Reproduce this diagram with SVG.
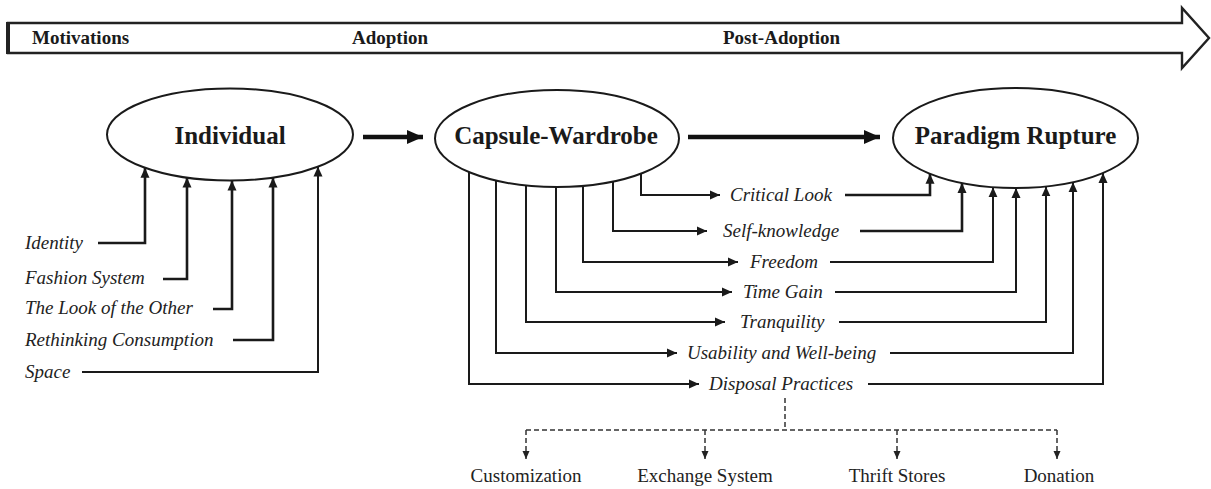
<svg xmlns="http://www.w3.org/2000/svg" width="1211" height="489" viewBox="0 0 1211 489">
<style>
.conn{fill:none;stroke:#1a1a1a;stroke-width:2}
.bold{stroke-width:2.6}
.thick{fill:none;stroke:#111;stroke-width:4.5}
.dash{fill:none;stroke:#333;stroke-width:1.5;stroke-dasharray:5 3}
.node{fill:#fff;stroke:#1a1a1a;stroke-width:2}
.ntext{font-family:"Liberation Serif",serif;font-weight:bold;font-size:25px;fill:#1a1a1a;text-anchor:middle}
.phase{font-family:"Liberation Serif",serif;font-weight:bold;font-size:19px;fill:#1a1a1a}
.lab{font-family:"Liberation Serif",serif;font-style:italic;font-size:19px;fill:#222}
.out{font-family:"Liberation Serif",serif;font-size:19px;fill:#222;text-anchor:middle}
</style>
<defs>
<marker id="ah" markerUnits="userSpaceOnUse" markerWidth="10" markerHeight="10" refX="10" refY="5" orient="auto"><path d="M0,0.5 L10,5 L0,9.5 z" fill="#1a1a1a"/></marker>
<marker id="ahb" markerUnits="userSpaceOnUse" markerWidth="16" markerHeight="16" refX="16" refY="8" orient="auto"><path d="M0,1 L16,8 L0,15 z" fill="#111"/></marker>
<marker id="ahd" markerUnits="userSpaceOnUse" markerWidth="8" markerHeight="8" refX="8" refY="4" orient="auto"><path d="M0,0.5 L8,4 L0,7.5 z" fill="#222"/></marker>
</defs>
<rect width="1211" height="489" fill="#fff"/>

<g id="timeline">
<polygon points="8,23 1182,23 1182,8 1209,38 1182,68 1182,53 8,53" fill="#fff" stroke="#222" stroke-width="2.4" stroke-linejoin="miter"/>
<line x1="8" y1="22" x2="8" y2="54" stroke="#222" stroke-width="4"/>
<text class="phase" x="32" y="44">Motivations</text>
<text class="phase" x="352" y="44">Adoption</text>
<text class="phase" x="723" y="44">Post-Adoption</text>
</g>

<g id="connectors">
<path class="thick" d="M363,137 H423" marker-end="url(#ahb)"/>
<path class="thick" d="M688,137 H880" marker-end="url(#ahb)"/>
<path class="conn bold" d="M98,243 H145 V167.7" marker-end="url(#ah)"/>
<path class="conn bold" d="M163,279 H187 V177.6" marker-end="url(#ah)"/>
<path class="conn bold" d="M213,309 H232 V180.5" marker-end="url(#ah)"/>
<path class="conn bold" d="M233,340 H273 V177.6" marker-end="url(#ah)"/>
<path class="conn" d="M82,372 H318 V166.6" marker-end="url(#ah)"/>
<path class="conn" d="M641,160 V195 H720" marker-end="url(#ah)"/>
<path class="conn" d="M613,160 V231 H707" marker-end="url(#ah)"/>
<path class="conn" d="M583,160 V262 H738" marker-end="url(#ah)"/>
<path class="conn" d="M556,160 V292 H732" marker-end="url(#ah)"/>
<path class="conn" d="M526,160 V322 H725" marker-end="url(#ah)"/>
<path class="conn" d="M496,160 V353 H677" marker-end="url(#ah)"/>
<path class="conn" d="M469,160 V384 H699" marker-end="url(#ah)"/>
<path class="conn bold" d="M845,195 H930 V173.8" marker-end="url(#ah)"/>
<path class="conn bold" d="M860,231 H962 V183" marker-end="url(#ah)"/>
<path class="conn" d="M830,262 H993 V187.2" marker-end="url(#ah)"/>
<path class="conn" d="M835,292 H1016 V188" marker-end="url(#ah)"/>
<path class="conn" d="M839,322 H1046 V186.4" marker-end="url(#ah)"/>
<path class="conn" d="M890,353 H1073 V182.2" marker-end="url(#ah)"/>
<path class="conn" d="M868,384 H1103 V173" marker-end="url(#ah)"/>
<path class="dash" d="M785,398 V430"/>
<path class="dash" d="M526,430 H1057"/>
<path class="dash" d="M526,430 V459" marker-end="url(#ahd)"/>
<path class="dash" d="M705,430 V459" marker-end="url(#ahd)"/>
<path class="dash" d="M897,430 V459" marker-end="url(#ahd)"/>
<path class="dash" d="M1057,430 V459" marker-end="url(#ahd)"/>
</g>

<g id="individual">
<ellipse class="node" cx="230" cy="134.5" rx="123" ry="46"/>
<text class="ntext" x="230" y="144">Individual</text>
</g>
<g id="capsule-wardrobe">
<ellipse class="node" cx="557" cy="138.5" rx="122" ry="48.5"/>
<text class="ntext" x="556" y="144">Capsule-Wardrobe</text>
</g>
<g id="paradigm-rupture">
<ellipse class="node" cx="1015.5" cy="138" rx="122.5" ry="50"/>
<text class="ntext" x="1015.5" y="144">Paradigm Rupture</text>
</g>

<g id="motivation-labels">
<text class="lab" x="25" y="249">Identity</text>
<text class="lab" x="25" y="284">Fashion System</text>
<text class="lab" x="25" y="314">The Look of the Other</text>
<text class="lab" x="25" y="346">Rethinking Consumption</text>
<text class="lab" x="25" y="378">Space</text>
</g>
<g id="post-adoption-labels">
<text class="lab" x="730" y="201">Critical Look</text>
<text class="lab" x="723" y="237">Self-knowledge</text>
<text class="lab" x="750" y="268">Freedom</text>
<text class="lab" x="743" y="298">Time Gain</text>
<text class="lab" x="740" y="328">Tranquility</text>
<text class="lab" x="687" y="359">Usability and Well-being</text>
<text class="lab" x="709" y="390">Disposal Practices</text>
</g>
<g id="disposal-outcomes">
<text class="out" x="526" y="482">Customization</text>
<text class="out" x="705" y="482">Exchange System</text>
<text class="out" x="897" y="482">Thrift Stores</text>
<text class="out" x="1059" y="482">Donation</text>
</g>
</svg>
